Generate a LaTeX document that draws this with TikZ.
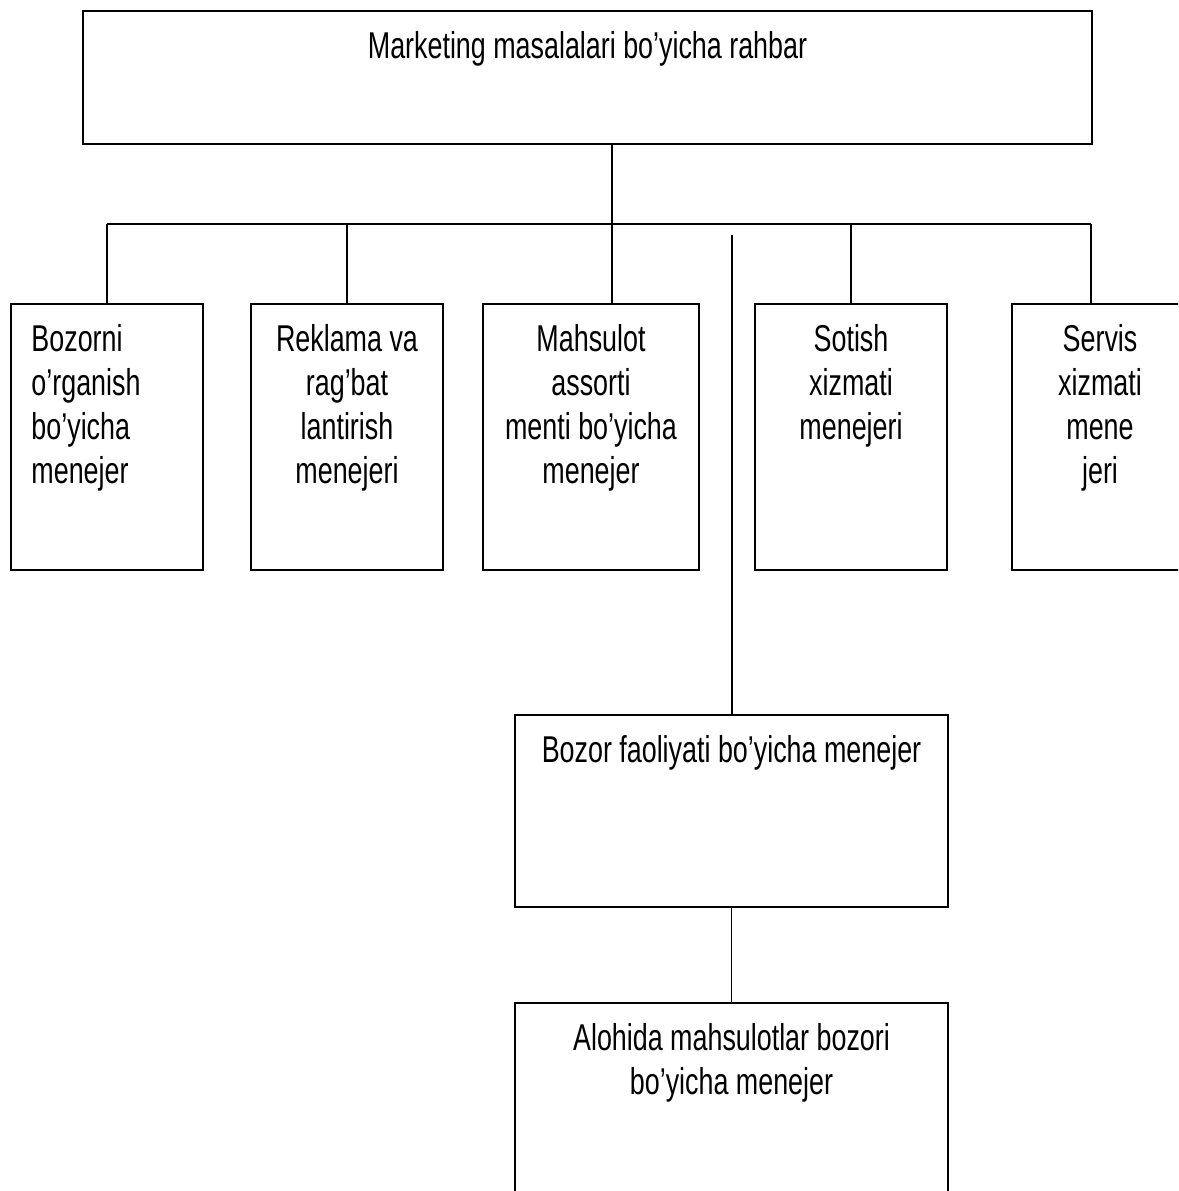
\documentclass[tikz,border=0pt]{standalone}
\usepackage{fontspec}
\setmainfont[FakeStretch=0.72]{Liberation Sans}
\usetikzlibrary{positioning}
\tikzset{orgbox/.style={draw, line width=1.2pt, inner sep=0pt}}
\tikzset{rowbox/.style={orgbox, minimum width=#1, minimum height=199.5pt}}
\tikzset{orgtxt/.style={inner sep=0pt, align=center, font=\fontsize{28}{33}\selectfont}}
\tikzset{link/.style={draw, line width=1.2pt}}

\begin{document}
\begin{tikzpicture}[x=0.75pt, y=-0.75pt]
	\clip (0,0) rectangle (1178,1191);
	% head
	\node[orgbox, minimum width=756.75pt, minimum height=99.75pt](rahbar) at (587.5,77.5) {};
	\node[orgtxt, below=16pt of rahbar.north]{Marketing masalalari bo’yicha rahbar};
	% managers
	\node[rowbox=144pt](bozorni) at (107,437) {};
	\node[rowbox=144pt](reklama) at (347,437) {};
	\node[rowbox=162pt](assort) at (591,437) {};
	\node[rowbox=144pt](sotish) at (851,437) {};
	\node[rowbox=144pt](servis) at (1108,437) {};
	\node[orgtxt, align=left, anchor=north west] at ([xshift=15.75pt, yshift=-16pt]bozorni.north west)
		{Bozorni\\o’rganish\\bo’yicha\\menejer};
	\node[orgtxt, below=16pt of reklama.north]{Reklama va\\rag’bat\\lantirish\\menejeri};
	\node[orgtxt, below=16pt of assort.north]{Mahsulot\\assorti\\menti bo’yicha\\menejer};
	\node[orgtxt, below=16pt of sotish.north]{Sotish\\xizmati\\menejeri};
	\node[orgtxt, below=16pt of servis.north, xshift=-6pt]{Servis\\xizmati\\mene\\jeri};
	% market
	\node[orgbox, minimum width=324.75pt, minimum height=144pt](bozor) at (731.5,811) {};
	\node[orgtxt, below=16pt of bozor.north]{Bozor faoliyati bo’yicha menejer};
	\node[orgbox, minimum width=324.75pt, minimum height=144pt](alohida) at (731.5,1099) {};
	\node[orgtxt, below=16pt of alohida.north]{Alohida mahsulotlar bozori\\bo’yicha menejer};
	% connectors
	\coordinate (bus) at (612,224);
	\coordinate (busL) at (107,224);
	\coordinate (busR) at (1091,224);
	\coordinate (free) at (732,235);
	\draw[link] (rahbar.south -| bus) -- (bus);
	\draw[link] (busL) -- (busR);
	\draw[link] (busL) -- (bozorni.north);
	\draw[link] (reklama.north |- bus) -- (reklama.north);
	\draw[link] (bus) -- (bus |- assort.north);
	\draw[link] (sotish.north |- bus) -- (sotish.north);
	\draw[link] (busR) -- (busR |- servis.north);
	\draw[link] (free) -- (free |- bozor.north);
	\draw[link] (bozor.south) -- (alohida.north);
\end{tikzpicture}
\end{document}
